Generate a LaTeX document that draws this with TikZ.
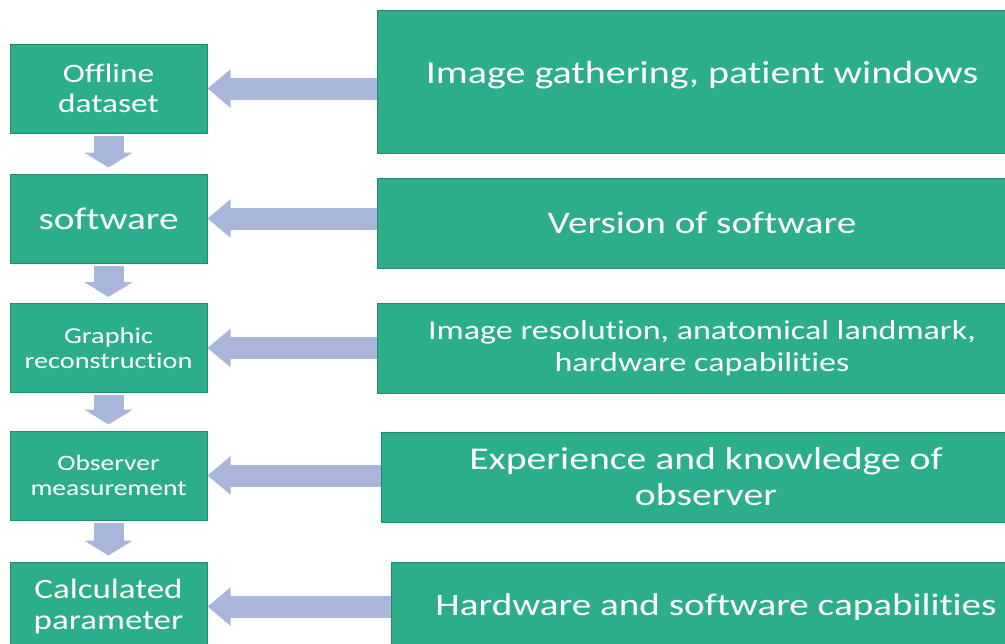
\documentclass[tikz,border=0pt]{standalone}
\usepackage{fontspec}
\setmainfont[FakeStretch=1.25, Ligatures=NoCommon]{Carlito}
\usetikzlibrary{arrows.meta}

\definecolor{boxgreen}{RGB}{43,174,137}
\definecolor{boxedge}{RGB}{33,138,108}
\definecolor{flowblue}{RGB}{169,181,218}

\newcommand{\fsz}[2]{\fontsize{#1}{#2}\selectfont}

\tikzset{
  stage/.style={draw=boxedge, line width=0.75pt, fill=boxgreen, text=white,
    align=center, inner sep=0pt, minimum width=147.75pt, minimum height=66.75pt},
  factor/.style={draw=boxedge, line width=0.75pt, fill=boxgreen, text=white,
    align=center, inner sep=0pt, minimum width=487.5pt, minimum height=67.5pt},
  downflow/.style={flowblue, line width=22.5pt,
    -{Triangle[width=36pt,length=11.25pt]}, shorten <=1.5pt, shorten >=4.5pt},
  sideflow/.style={flowblue, line width=16.5pt,
    -{Triangle[width=27.75pt,length=17.25pt]}},
}

\begin{document}
\begin{tikzpicture}[x=0.75pt, y=-0.75pt]
  \useasboundingbox (0,0) rectangle (1005,643);
  \clip (0,0) rectangle (1005,643);

  % steps of the workflow
  \node [stage, font=\fsz{20pt}{22.5pt}] (offline) at (108.5,88.5) {Offline\\dataset};
  \node [stage, font=\fsz{23.5pt}{26pt}] (soft) at (108.5,218.5) {software};
  \node [stage, font=\fsz{17pt}{18.75pt}] (graphic) at (108.5,348) {Graphic\\reconstruction};
  \node [stage, font=\fsz{16.5pt}{18.75pt}] (observer) at (108.5,475.5) {Observer\\measurement};
  \node [stage, font=\fsz{21pt}{23.25pt}] (calc) at (108.5,606.5) {Calculated\\parameter};

  % what each step depends on
  \node [factor, minimum height=107.25pt, text depth=14pt, font=\fsz{24pt}{27pt}]
    (gather) at (702,81.5) {Image gathering, patient windows};
  \node [factor, font=\fsz{23.5pt}{27pt}] (version) at (702,223) {Version of software};
  \node [factor, font=\fsz{20.4pt}{24pt}] (resol) at (702,348)
    {Image resolution, anatomical landmark,\\hardware capabilities};
  \node [factor, font=\fsz{23.8pt}{27pt}] (exper) at (706,477)
    {Experience and knowledge of\\observer};
  \node [factor, font=\fsz{23.5pt}{27pt}] (hwsw) at (716,607)
    {Hardware and software capabilities};

  \draw [downflow] (offline) -- (soft);
  \draw [downflow] (soft) -- (graphic);
  \draw [downflow] (graphic) -- (observer);
  \draw [downflow] (observer) -- (calc);

  \draw [sideflow] (gather.west |- offline.east) -- (offline.east);
  \draw [sideflow] (version.west |- soft.east) -- (soft.east);
  \draw [sideflow] (resol.west |- graphic.east) -- (graphic.east);
  \draw [sideflow] (exper.west |- observer.east) -- (observer.east);
  \draw [sideflow] (hwsw.west |- calc.east) -- (calc.east);
\end{tikzpicture}
\end{document}
